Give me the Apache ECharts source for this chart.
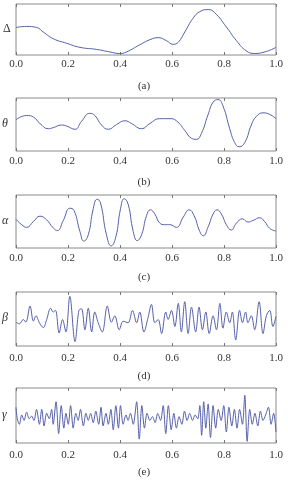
<!DOCTYPE html>
<html><head><meta charset="utf-8">
<script src="https://cdn.jsdelivr.net/npm/echarts@6/dist/echarts.min.js"></script>
<style>html,body{margin:0;padding:0;background:#fff}#c{width:288px;height:480px}</style>
</head><body><div id="c"></div>
<script>
// Panel labels
var panelNames = ['Δ', 'θ', 'α', 'β', 'γ'];
var captions = ['(a)', '(b)', '(c)', '(d)', '(e)'];
var xTicks = [0.0, 0.2, 0.4, 0.6, 0.8, 1.0];

// (a) Delta
var deltaT = [0,0.041,0.079,0.105,0.143,0.195,0.246,0.310,0.361,0.399,0.425,0.476,0.515,0.547,0.579,0.604,0.624,0.649,0.681,0.707,0.739,0.764,0.809,0.848,0.886,0.918,0.963,1];
var deltaV = [0.54,0.56,0.54,0.45,0.32,0.23,0.15,0.11,0.06,0.03,0.06,0.20,0.30,0.34,0.28,0.21,0.25,0.45,0.72,0.85,0.89,0.83,0.55,0.28,0.08,0.03,0.07,0.15];

// (b) Theta
var thetaT = [0,0.041,0.067,0.092,0.124,0.143,0.175,0.195,0.227,0.252,0.284,0.303,0.329,0.355,0.387,0.419,0.444,0.483,0.515,0.553,0.592,0.617,0.649,0.675,0.694,0.713,0.739,0.758,0.777,0.796,0.822,0.841,0.858,0.880,0.905,0.924,0.950,0.976,1];
var thetaV = [0.59,0.67,0.64,0.52,0.42,0.44,0.49,0.47,0.41,0.56,0.71,0.67,0.49,0.41,0.50,0.57,0.52,0.42,0.52,0.61,0.61,0.57,0.39,0.24,0.22,0.33,0.69,0.92,0.97,0.85,0.42,0.16,0.08,0.16,0.49,0.65,0.72,0.69,0.61];

// (c) Alpha
var alphaT = [0,0.022,0.041,0.067,0.092,0.118,0.143,0.159,0.182,0.207,0.223,0.246,0.261,0.278,0.297,0.312,0.325,0.348,0.366,0.384,0.402,0.416,0.431,0.451,0.466,0.483,0.502,0.517,0.534,0.553,0.572,0.592,0.617,0.643,0.666,0.685,0.707,0.720,0.739,0.758,0.773,0.790,0.809,0.828,0.848,0.871,0.892,0.912,0.937,0.956,0.976,1];
var alphaV = [0.54,0.44,0.39,0.50,0.60,0.53,0.38,0.33,0.52,0.75,0.71,0.31,0.13,0.25,0.74,0.92,0.85,0.25,0.04,0.21,0.74,0.93,0.83,0.31,0.14,0.25,0.61,0.72,0.64,0.47,0.44,0.44,0.39,0.58,0.72,0.61,0.31,0.23,0.40,0.64,0.72,0.64,0.44,0.34,0.47,0.55,0.49,0.52,0.57,0.50,0.37,0.32];

// (d) Beta
var betaT = [0,0.013,0.028,0.038,0.054,0.067,0.077,0.090,0.105,0.118,0.133,0.143,0.152,0.166,0.179,0.192,0.207,0.227,0.242,0.252,0.265,0.278,0.291,0.303,0.316,0.332,0.351,0.367,0.380,0.397,0.412,0.431,0.448,0.464,0.476,0.492,0.508,0.521,0.534,0.547,0.560,0.576,0.585,0.598,0.611,0.624,0.636,0.649,0.662,0.675,0.691,0.704,0.717,0.730,0.743,0.758,0.771,0.784,0.796,0.809,0.822,0.832,0.845,0.860,0.871,0.883,0.892,0.905,0.918,0.935,0.950,0.963,0.976,0.988,1];
var betaV = [0.44,0.41,0.49,0.44,0.74,0.46,0.56,0.43,0.34,0.49,0.70,0.63,0.66,0.24,0.49,0.26,0.92,0.08,0.66,0.69,0.30,0.70,0.26,0.63,0.43,0.26,0.74,0.44,0.56,0.30,0.46,0.43,0.66,0.43,0.63,0.26,0.53,0.77,0.43,0.49,0.23,0.63,0.49,0.66,0.36,0.79,0.26,0.82,0.23,0.72,0.26,0.72,0.30,0.63,0.23,0.56,0.30,0.79,0.33,0.63,0.43,0.63,0.11,0.66,0.43,0.63,0.43,0.56,0.30,0.82,0.23,0.56,0.66,0.36,0.55];

// (e) Gamma
var gammaT = [0,0.005,0.013,0.022,0.031,0.041,0.051,0.060,0.069,0.079,0.090,0.099,0.108,0.118,0.128,0.137,0.143,0.154,0.164,0.174,0.184,0.192,0.201,0.210,0.220,0.230,0.239,0.248,0.259,0.269,0.278,0.287,0.297,0.307,0.318,0.327,0.335,0.346,0.355,0.365,0.374,0.384,0.394,0.402,0.412,0.423,0.431,0.440,0.451,0.464,0.474,0.484,0.494,0.504,0.515,0.525,0.535,0.545,0.556,0.566,0.576,0.586,0.597,0.607,0.617,0.627,0.638,0.648,0.658,0.668,0.679,0.689,0.699,0.707,0.714,0.722,0.730,0.739,0.748,0.758,0.768,0.778,0.789,0.799,0.809,0.819,0.830,0.840,0.850,0.860,0.871,0.880,0.889,0.899,0.909,0.919,0.930,0.940,0.950,0.960,0.971,0.981,0.991,1];
var gammaV = [0.65,0.44,0.34,0.51,0.41,0.56,0.44,0.49,0.41,0.61,0.34,0.61,0.31,0.54,0.44,0.61,0.34,0.75,0.17,0.68,0.27,0.54,0.34,0.68,0.27,0.54,0.41,0.61,0.31,0.54,0.41,0.54,0.37,0.58,0.34,0.65,0.31,0.54,0.34,0.61,0.24,0.68,0.27,0.68,0.34,0.51,0.41,0.54,0.34,0.75,0.07,0.68,0.27,0.54,0.41,0.48,0.37,0.54,0.41,0.68,0.17,0.68,0.24,0.54,0.27,0.48,0.34,0.58,0.41,0.54,0.41,0.51,0.44,0.68,0.14,0.75,0.27,0.71,0.10,0.68,0.27,0.61,0.41,0.68,0.20,0.65,0.31,0.61,0.27,0.61,0.34,0.87,0.03,0.61,0.34,0.54,0.31,0.58,0.41,0.51,0.65,0.34,0.54,0.20];

var seriesT = [deltaT, thetaT, alphaT, betaT, gammaT];
var seriesV = [deltaV, thetaV, alphaV, betaV, gammaV];

var gridTops = [4, 98, 195, 292, 388];
var gridHeights = [51, 53, 53, 54, 55];
var labelMargins = [4, 5, 5, 7, 7];
var captionY = [86, 182, 277, 376, 472];
var smoothness = [0.5, 0.5, 0.5, 0.35, 0.3];

var font = '"Liberation Serif", "DejaVu Serif", serif';
var grids = [], xAxes = [], yAxes = [], series = [], graphics = [];
for (var i = 0; i < 5; i++) {
  grids.push({left: 16, width: 260, top: gridTops[i], height: gridHeights[i], show: true, borderColor: '#8a8a8a', borderWidth: 1, backgroundColor: 'transparent'});
  xAxes.push({type: 'value', gridIndex: i, min: 0, max: 1, interval: 0.2, position: 'bottom',
    axisLine: {show: false}, splitLine: {show: false},
    axisTick: {show: true, inside: true, length: 3, lineStyle: {color: '#777'}},
    axisLabel: {show: true, margin: labelMargins[i], color: '#333', fontFamily: font, fontSize: 11,
      showMinLabel: true, showMaxLabel: true, formatter: function (v) { return v.toFixed(1); }}});
  xAxes.push({type: 'value', gridIndex: i, min: 0, max: 1, interval: 0.2, position: 'top',
    axisLine: {show: false}, splitLine: {show: false},
    axisTick: {show: true, inside: true, length: 3, lineStyle: {color: '#777'}},
    axisLabel: {show: false}});
  yAxes.push({type: 'value', gridIndex: i, min: 0, max: 1, show: false});
  var d = [];
  for (var k = 0; k < seriesT[i].length; k++) d.push([seriesT[i][k], seriesV[i][k]]);
  series.push({type: 'line', xAxisIndex: 2 * i, yAxisIndex: i, data: d, showSymbol: false,
    smooth: smoothness[i], lineStyle: {color: '#5560a8', width: 1}, silent: true, animation: false});
  graphics.push({type: 'text', left: i === 0 ? 3 : 2, top: gridTops[i] + gridHeights[i] / 2 - 7,
    style: {text: panelNames[i], font: (i === 0 ? '' : 'italic ') + '12px ' + font, fill: '#333'}});
  graphics.push({type: 'text', x: 144, y: captionY[i],
    style: {text: captions[i], font: '11px ' + font, fill: '#333', textAlign: 'center', textVerticalAlign: 'middle'}});
}
var chart = echarts.init(document.getElementById('c'));
chart.setOption({animation: false, grid: grids, xAxis: xAxes, yAxis: yAxes, series: series, graphic: graphics});
</script></body></html>
